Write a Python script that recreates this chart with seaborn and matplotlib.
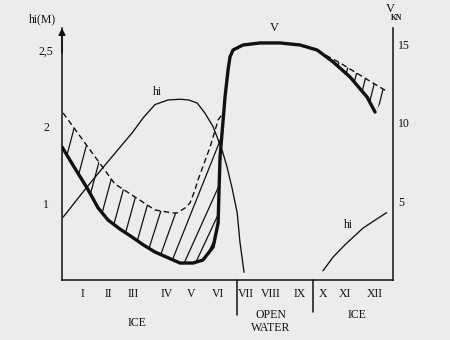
import matplotlib
matplotlib.use("Agg")
import matplotlib.pyplot as plt
from matplotlib.patches import Polygon
from matplotlib.collections import LineCollection
import numpy as np
import seaborn as sns

# ---------------------------------------------------------------- data
month_labels = ["I", "II", "III", "IV", "V", "VI",
                "VII", "VIII", "IX", "X", "XI", "XII"]
month_ticks = [0.76, 1.67, 2.57, 3.81, 4.68, 5.66,
               6.67, 7.58, 8.63, 9.46, 10.26, 11.35]

hi_ticks = [1, 2, 3]
hi_tick_labels = ["1", "2", "2,5"]
v_ticks = [5, 10, 15]

# ship speed V (knots) through the year
v_month = [0.00, 0.45, 0.91, 1.31, 1.67, 2.10, 2.54, 2.95, 3.37, 4.03, 4.28, 4.75,
           5.11, 5.48, 5.66, 5.69, 5.73, 5.85, 5.91, 6.02, 6.09, 6.20, 6.56,
           7.18, 7.90, 8.63, 9.25, 9.83, 10.44, 11.06, 11.35]
v_knots = [8.46, 7.15, 5.85, 4.58, 3.81, 3.24, 2.73, 2.23, 1.78, 1.27, 1.08, 1.08,
           1.27, 2.10, 3.62, 5.53, 7.82, 10.36, 11.63, 13.35, 14.18, 14.62, 14.94,
           15.07, 15.07, 14.94, 14.62, 13.86, 12.91, 11.63, 10.68]

# attainable speed (dashed), spring ice season
vmax_spring_month = [0.04, 1.02, 1.92, 2.54, 3.37, 4.03, 4.17, 4.46, 4.64, 4.82,
                     4.93, 5.37, 5.66, 5.81]
vmax_spring_knots = [10.62, 8.26, 6.10, 5.40, 4.45, 4.26, 4.26, 4.58, 4.90, 5.72,
                     6.36, 8.46, 10.17, 10.55]

# attainable speed (dashed), autumn freeze-up
vmax_autumn_month = [9.28, 10.08, 10.91, 11.82]
vmax_autumn_knots = [14.56, 13.80, 12.91, 11.95]

# ice thickness hi (m)
hi_spring_month = [0.04, 0.83, 1.56, 2.54, 2.95, 3.37, 3.84, 4.28, 4.60, 4.90,
                   5.18, 5.48, 5.80, 5.98, 6.16, 6.35, 6.45, 6.60]
hi_spring_m = [0.82, 1.18, 1.50, 1.92, 2.12, 2.29, 2.35, 2.36, 2.35, 2.31,
               2.18, 2.00, 1.70, 1.48, 1.21, 0.88, 0.50, 0.10]
hi_autumn_month = [9.46, 9.83, 10.26, 10.92, 11.77]
hi_autumn_m = [0.12, 0.30, 0.46, 0.68, 0.88]

# ---------------------------------------------------------------- layout
W, H = 450, 340
AX_L, AX_R, AX_B, AX_T = 62, 393, 280, 28
PX_PER_KNOT = 15.73
PX_PER_M = 76.6
V_TOP = (AX_B - AX_T) / PX_PER_KNOT
HI_TOP = (AX_B - AX_T) / PX_PER_M
PX_PER_MONTH = (AX_R - AX_L) / 12
ax_h = AX_B - AX_T

paper = "#ececec"
ink = "#111111"
FS = 8.5

sns.set_theme(style="white")
plt.rcParams["font.family"] = ["Liberation Serif", "DejaVu Serif"]

fig = plt.figure(figsize=(W / 100, H / 100), dpi=100, facecolor=paper)
ax = fig.add_axes([AX_L / W, 1 - AX_B / H, (AX_R - AX_L) / W, ax_h / H])
ax.set_facecolor(paper)
ax2 = ax.twinx()

ax.set_xlim(0, 12)
ax.set_ylim(0, HI_TOP)
ax2.set_ylim(0, V_TOP)


def fy(py):
    """axes-fraction y for a pixel row below/above the frame"""
    return (AX_B - py) / ax_h


# ---------------------------------------------------------------- hatching
def hatch(polygon, anchors_x, anchors_y, slopes_px, up, down):
    poly = Polygon(polygon, closed=True, facecolor="none", edgecolor="none",
                   transform=ax2.transData)
    ax2.add_patch(poly)
    segs = []
    for x, y, p in zip(anchors_x, anchors_y, slopes_px):
        s = p * PX_PER_MONTH / PX_PER_KNOT
        segs.append([(x - down / s, y - down), (x + up / s, y + up)])
    lc = LineCollection(segs, colors=ink, linewidths=0.9, transform=ax2.transData)
    lc.set_clip_path(poly)
    ax2.add_collection(lc)


vm = np.array(v_month)
vk = np.array(v_knots)

# spring: between the dashed limit and the actual speed
left_mask = vm <= 5.85
left_poly = list(zip(vmax_spring_month, vmax_spring_knots)) + \
    list(zip(vm[left_mask][::-1], vk[left_mask][::-1]))
lx = np.arange(0.18, 5.55, 0.425)
ly = np.interp(lx, vm, vk)
lp = np.interp(lx, [0.0, 2.65, 3.56, 4.46, 5.73], [3.8, 3.6, 2.8, 2.2, 2.0])
hatch(left_poly, lx, ly, lp, up=20, down=3)

# autumn: between the dashed limit and the actual speed
right_mask = vm >= 9.25
right_poly = list(zip(vmax_autumn_month, vmax_autumn_knots)) + \
    list(zip(vm[right_mask][::-1], vk[right_mask][::-1]))
rx = np.arange(10.04, 11.75, 0.32)
ry = np.interp(rx, vmax_autumn_month, vmax_autumn_knots)
hatch(right_poly, rx, ry, [4.0] * len(rx), up=1, down=10)

# ---------------------------------------------------------------- curves
sns.lineplot(x=hi_spring_month, y=hi_spring_m, ax=ax, color=ink,
             linewidth=0.95, estimator=None)
sns.lineplot(x=hi_autumn_month, y=hi_autumn_m, ax=ax, color=ink,
             linewidth=0.95, estimator=None)
sns.lineplot(x=vmax_spring_month, y=vmax_spring_knots, ax=ax2, color=ink,
             linewidth=1.0, linestyle=(0, (4, 2.5)), estimator=None)
sns.lineplot(x=vmax_autumn_month, y=vmax_autumn_knots, ax=ax2, color=ink,
             linewidth=1.0, linestyle=(0, (4, 2.5)), estimator=None)
sns.lineplot(x=v_month, y=v_knots, ax=ax2, color=ink,
             linewidth=2.4, estimator=None)

# ---------------------------------------------------------------- axes
for a in (ax, ax2):
    for sp in a.spines.values():
        sp.set_color(ink)
        sp.set_linewidth(1.1)
    a.spines["top"].set_visible(False)
    a.set_xlabel("")
    a.set_ylabel("")
ax.spines["right"].set_visible(False)
ax2.spines["left"].set_visible(False)
ax2.spines["bottom"].set_visible(False)

ax.set_xticks(month_ticks, month_labels)
ax.set_yticks(hi_ticks, hi_tick_labels)
ax2.set_yticks(v_ticks, [str(v) for v in v_ticks])
ax.tick_params(axis="x", length=0, pad=5.5, labelsize=FS, colors=ink)
ax.tick_params(axis="y", length=0, pad=11.5, labelsize=FS, colors=ink)
ax2.tick_params(axis="y", length=0, pad=3.5, labelsize=FS, colors=ink)
for t in ax.get_yticklabels():
    t.set_horizontalalignment("center")

# arrow tip on the thickness axis
ax.annotate("", xy=(0, 1.0), xytext=(0, 0.9), xycoords="axes fraction",
            arrowprops=dict(arrowstyle="-|>", color=ink, lw=1.1,
                            mutation_scale=10, shrinkA=0, shrinkB=0))

# season separators below the month axis
for xm, ylen in [((237 - AX_L) / PX_PER_MONTH, 35), ((313 - AX_L) / PX_PER_MONTH, 32)]:
    ax.axvline(xm, ymin=-ylen / ax_h, ymax=0, color=ink, lw=1.1, clip_on=False)

# season names
ax.text((137 - AX_L) / PX_PER_MONTH, fy(323), "ICE", ha="center", va="center",
        fontsize=FS, color=ink, transform=ax.get_xaxis_transform())
ax.text((271 - AX_L) / PX_PER_MONTH, fy(321.5), "OPEN\nWATER", ha="center",
        va="center", fontsize=FS, color=ink, linespacing=1.2,
        transform=ax.get_xaxis_transform())
ax.text((357 - AX_L) / PX_PER_MONTH, fy(315), "ICE", ha="center", va="center",
        fontsize=FS, color=ink, transform=ax.get_xaxis_transform())

# curve names
ax.text((157 - AX_L) / PX_PER_MONTH, (AX_B - 92) / PX_PER_M, "hi",
        ha="center", va="center", fontsize=FS, color=ink)
ax.text((348 - AX_L) / PX_PER_MONTH, (AX_B - 225) / PX_PER_M, "hi",
        ha="center", va="center", fontsize=FS, color=ink)
ax2.text((274 - AX_L) / PX_PER_MONTH, (AX_B - 28) / PX_PER_KNOT, "V",
         ha="center", va="center", fontsize=9, color=ink)

# axis titles
fig.text(42 / W, 1 - 19 / H, "hi(M)", ha="center", va="center",
         fontsize=FS, color=ink)
fig.text(390 / W, 1 - 9 / H, "V", ha="center", va="center",
         fontsize=9, color=ink)
fig.text(397 / W, 1 - 18 / H, "KN", ha="center", va="center",
         fontsize=5.5, fontweight="bold", color=ink)

fig.savefig("out.png", dpi=100, facecolor=paper)
